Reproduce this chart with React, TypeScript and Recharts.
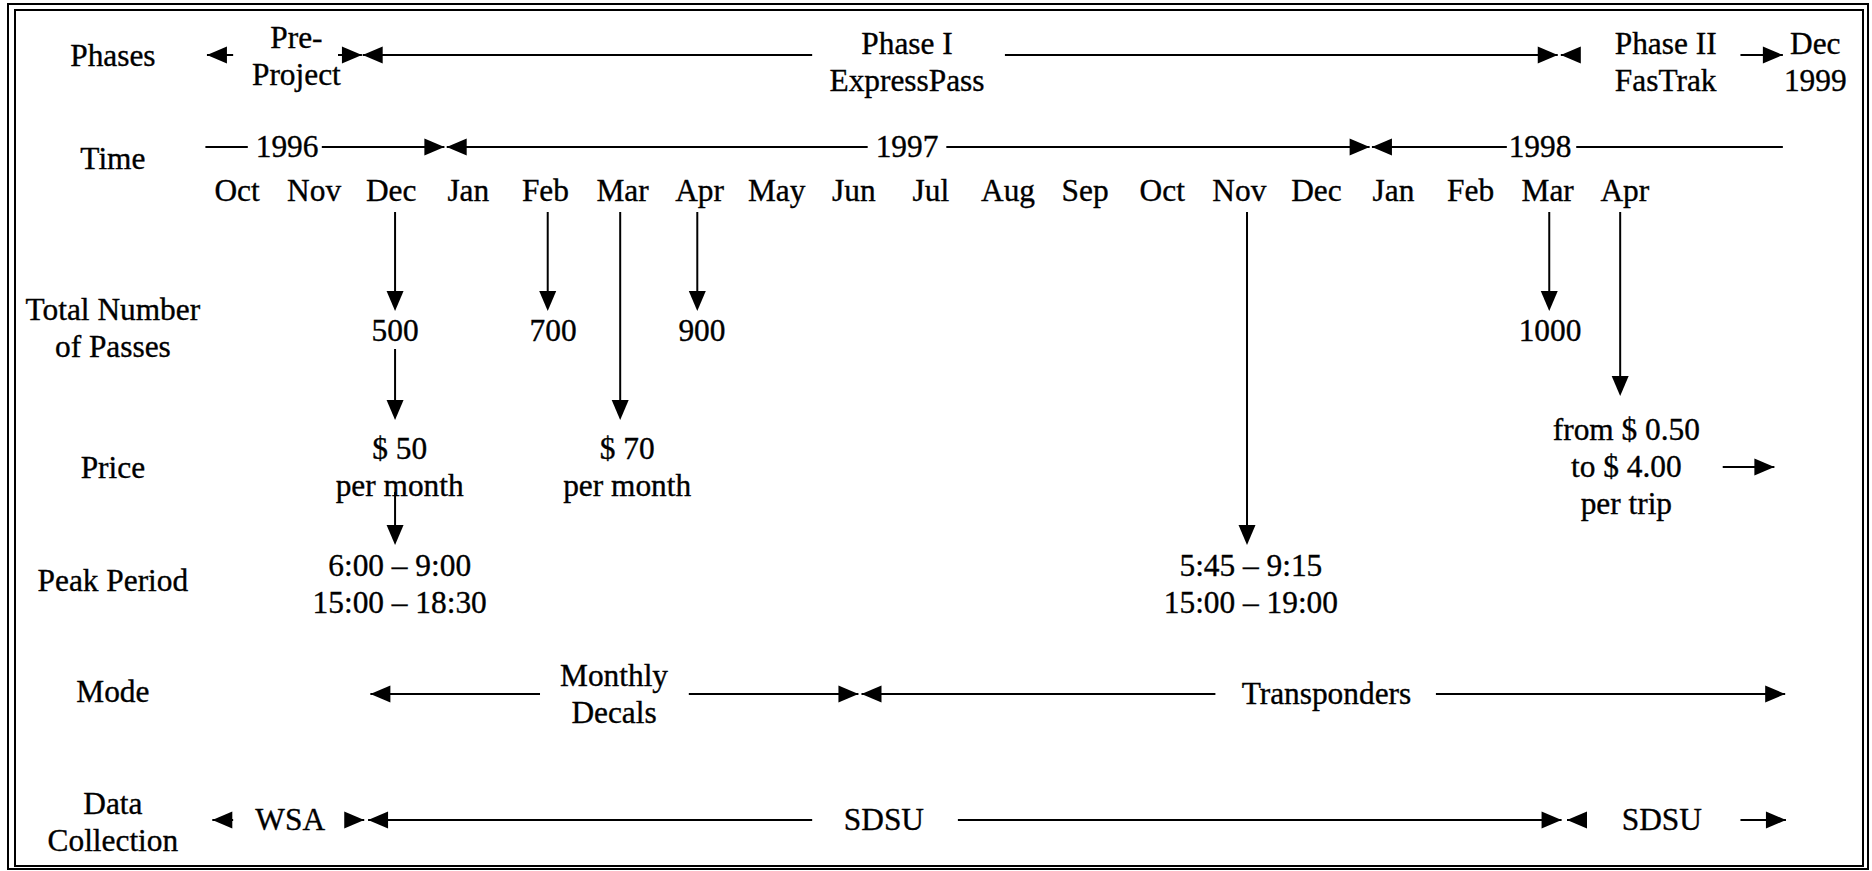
import React from 'react';
import { ComposedChart, XAxis, YAxis, Scatter, ReferenceLine } from 'recharts';

// ---------- data (x in months since Oct 1996) ----------
const MONTHS = ['Oct', 'Nov', 'Dec', 'Jan', 'Feb', 'Mar', 'Apr', 'May', 'Jun', 'Jul', 'Aug', 'Sep', 'Oct', 'Nov', 'Dec', 'Jan', 'Feb', 'Mar', 'Apr'];

const ROW_LABELS = [
  { lines: ['Phases'], level: 'phaseLabel' },
  { lines: ['Time'], level: 'timeLabel' },
  { lines: ['Total Number', 'of Passes'], level: 'passesLabel' },
  { lines: ['Price'], level: 'priceLabel' },
  { lines: ['Peak Period'], level: 'peakLabel' },
  { lines: ['Mode'], level: 'modeLabel' },
  { lines: ['Data', 'Collection'], level: 'dataLabel' },
];

const PHASE_TEXTS = [
  { x: 0.77, lines: ['Pre-', 'Project'], level: 'preProject' },
  { x: 8.69, lines: ['Phase I', 'ExpressPass'], level: 'phaseText' },
  { x: 18.53, lines: ['Phase II', 'FasTrak'], level: 'phaseText' },
  { x: 20.47, lines: ['Dec', '1999'], level: 'phaseText' },
];
const YEARS = [
  { x: 0.65, lines: ['1996'] },
  { x: 8.69, lines: ['1997'] },
  { x: 16.9, lines: ['1998'] },
];
const PASSES = [
  { x: 2.05, lines: ['500'] },
  { x: 4.1, lines: ['700'] },
  { x: 6.03, lines: ['900'] },
  { x: 17.03, lines: ['1000'] },
];
const PRICES = [
  { x: 2.11, lines: ['$ 50', 'per month'] },
  { x: 5.06, lines: ['$ 70', 'per month'] },
  { x: 18.02, lines: ['from $ 0.50', 'to $ 4.00', 'per trip'] },
];
const PEAKS = [
  { x: 2.11, lines: ['6:00 – 9:00', '15:00 – 18:30'] },
  { x: 13.15, lines: ['5:45 – 9:15', '15:00 – 19:00'] },
];
const MODES = [
  { x: 4.89, lines: ['Monthly', 'Decals'] },
  { x: 14.13, lines: ['Transponders'] },
];
const COLLECTORS = [
  { x: 0.69, lines: ['WSA'] },
  { x: 8.39, lines: ['SDSU'] },
  { x: 18.48, lines: ['SDSU'] },
];

// horizontal spans: [from, to, arrow at start, arrow at end]
const PHASE_SPANS = [
  [-0.39, -0.05, true, false],
  [1.31, 1.62, false, true],
  [1.63, 7.46, true, false],
  [9.96, 17.13, false, true],
  [17.17, 17.4, true, false],
  [19.5, 20.05, false, true],
];
const TIME_SPANS = [
  [-0.41, 0.14, false, false],
  [1.1, 2.69, false, true],
  [2.72, 8.18, true, false],
  [9.2, 14.69, false, true],
  [14.72, 16.47, true, false],
  [17.37, 20.05, false, false],
];
const PRICE_SPANS = [[19.27, 19.94, false, true]];
const MODE_SPANS = [
  [1.73, 3.93, true, false],
  [5.86, 8.06, false, true],
  [8.1, 12.69, true, false],
  [15.55, 20.08, false, true],
];
const DATA_SPANS = [
  [-0.32, -0.05, true, false],
  [1.4, 1.65, false, true],
  [1.7, 7.46, true, false],
  [9.35, 17.18, false, true],
  [17.25, 17.5, true, false],
  [19.5, 20.09, false, true],
];

// vertical event arrows: month, start level, tip level
const EVENT_ARROWS = [
  { x: 2.05, from: 'arrowStart', to: 'passesTip' },
  { x: 2.05, from: 'priceStart', to: 'priceTip' },
  { x: 2.05, from: 'peakStart', to: 'peakTip' },
  { x: 4.03, from: 'arrowStart', to: 'passesTip' },
  { x: 4.97, from: 'arrowStart', to: 'priceTip' },
  { x: 5.97, from: 'arrowStart', to: 'passesTip' },
  { x: 13.1, from: 'arrowStart', to: 'peakTip' },
  { x: 17.02, from: 'arrowStart', to: 'passesTip' },
  { x: 17.94, from: 'arrowStart', to: 'tripTip' },
];

// ---------- layout ----------
const W = 1872;
const H = 871;
const X_MIN = -3.074;
const X_MAX = X_MIN + W / 77.1;
const LABEL_X = -1.61;
const Y: Record<string, number> = {
  phaseLine: 55, phaseText: 62, preProject: 56, phaseLabel: 56,
  time: 147, timeLabel: 159, month: 191,
  arrowStart: 212, passesTip: 311, passes: 331, passesLabel: 328,
  priceStart: 349, priceTip: 420, tripTip: 396, price: 467, priceLabel: 468,
  peakStart: 492, peakTip: 545, peak: 584, peakLabel: 581,
  mode: 694, modeLabel: 692, data: 820, dataLabel: 822,
};
const FONT = 'Liberation Serif';
const FS = 32;
const SX = 0.98;
const LINE_H = 37;
const AL = 20; // arrow length
const AW = 17; // arrow width

const TextShape = (props: any) => {
  const { cx, cy, payload } = props;
  if (cx == null || cy == null) return null;
  const lines: string[] = payload.lines;
  const n = lines.length;
  return (
    <g>
      {lines.map((l, i) => {
        const yy = cy + (i - (n - 1) / 2) * LINE_H;
        return (
          <text
            key={i}
            x={0}
            y={0}
            dy={10}
            transform={`translate(${cx},${yy}) scale(${SX},1)`}
            textAnchor="middle"
            style={{ fontFamily: FONT, fontSize: FS }}
            fill="#000"
            stroke="#000"
            strokeWidth={0.35}
          >
            {l}
          </text>
        );
      })}
    </g>
  );
};

const ArrowShape = (props: any) => {
  const { cx, cy, payload } = props;
  if (cx == null || cy == null) return null;
  let pts = '';
  if (payload.dir === 'right') pts = `${cx},${cy} ${cx - AL},${cy - AW / 2} ${cx - AL},${cy + AW / 2}`;
  else if (payload.dir === 'left') pts = `${cx},${cy} ${cx + AL},${cy - AW / 2} ${cx + AL},${cy + AW / 2}`;
  else pts = `${cx},${cy} ${cx - AW / 2},${cy - AL} ${cx + AW / 2},${cy - AL}`;
  return <polygon points={pts} fill="#000" stroke="none" />;
};

const spanRows: { spans: any[]; level: string }[] = [
  { spans: PHASE_SPANS, level: 'phaseLine' },
  { spans: TIME_SPANS, level: 'time' },
  { spans: PRICE_SPANS, level: 'price' },
  { spans: MODE_SPANS, level: 'mode' },
  { spans: DATA_SPANS, level: 'data' },
];

const segments: { x1: number; x2: number; y1: number; y2: number }[] = [];
const arrowHeads: { x: number; y: number; dir: string }[] = [];
spanRows.forEach(({ spans, level }) => {
  spans.forEach(([a, b, sa, sb]) => {
    segments.push({ x1: a, x2: b, y1: Y[level], y2: Y[level] });
    if (sa) arrowHeads.push({ x: a, y: Y[level], dir: 'left' });
    if (sb) arrowHeads.push({ x: b, y: Y[level], dir: 'right' });
  });
});
EVENT_ARROWS.forEach((e) => {
  segments.push({ x1: e.x, x2: e.x, y1: Y[e.from], y2: Y[e.to] - 4 });
  arrowHeads.push({ x: e.x, y: Y[e.to], dir: 'down' });
});

const textPoints = [
  ...ROW_LABELS.map((r) => ({ x: LABEL_X, y: Y[r.level], lines: r.lines })),
  ...PHASE_TEXTS.map((t) => ({ x: t.x, y: Y[t.level], lines: t.lines })),
  ...YEARS.map((t) => ({ x: t.x, y: Y.time, lines: t.lines })),
  ...MONTHS.map((m, i) => ({ x: i, y: Y.month, lines: [m] })),
  ...PASSES.map((t) => ({ x: t.x, y: Y.passes, lines: t.lines })),
  ...PRICES.map((t) => ({ x: t.x, y: Y.price, lines: t.lines })),
  ...PEAKS.map((t) => ({ x: t.x, y: Y.peak, lines: t.lines })),
  ...MODES.map((t) => ({ x: t.x, y: Y.mode, lines: t.lines })),
  ...COLLECTORS.map((t) => ({ x: t.x, y: Y.data, lines: t.lines })),
];

export default function App() {
  return (
    <div style={{ position: 'absolute', left: 0, top: 0, width: W, height: H, background: '#fff' }}>
      <div style={{ position: 'absolute', left: 7, top: 3, width: 1862, height: 867, border: '2px solid #000', boxSizing: 'border-box' }} />
      <div style={{ position: 'absolute', left: 14, top: 9, width: 1850, height: 858, border: '2px solid #000', boxSizing: 'border-box' }} />
      <div style={{ position: 'absolute', left: 0, top: 0 }}>
        <ComposedChart width={W} height={H} margin={{ top: 0, right: 0, bottom: 0, left: 0 }}>
          <XAxis type="number" dataKey="x" domain={[X_MIN, X_MAX]} allowDataOverflow hide />
          <YAxis type="number" dataKey="y" domain={[0, H]} reversed allowDataOverflow hide />
          {segments.map((s, i) => (
            <ReferenceLine
              key={`seg${i}`}
              segment={[{ x: s.x1, y: s.y1 }, { x: s.x2, y: s.y2 }]}
              stroke="#000"
              strokeWidth={2}
              ifOverflow="visible"
            />
          ))}
          <Scatter data={arrowHeads} dataKey="y" shape={ArrowShape} isAnimationActive={false} />
          <Scatter data={textPoints} dataKey="y" shape={TextShape} isAnimationActive={false} />
        </ComposedChart>
      </div>
    </div>
  );
}
